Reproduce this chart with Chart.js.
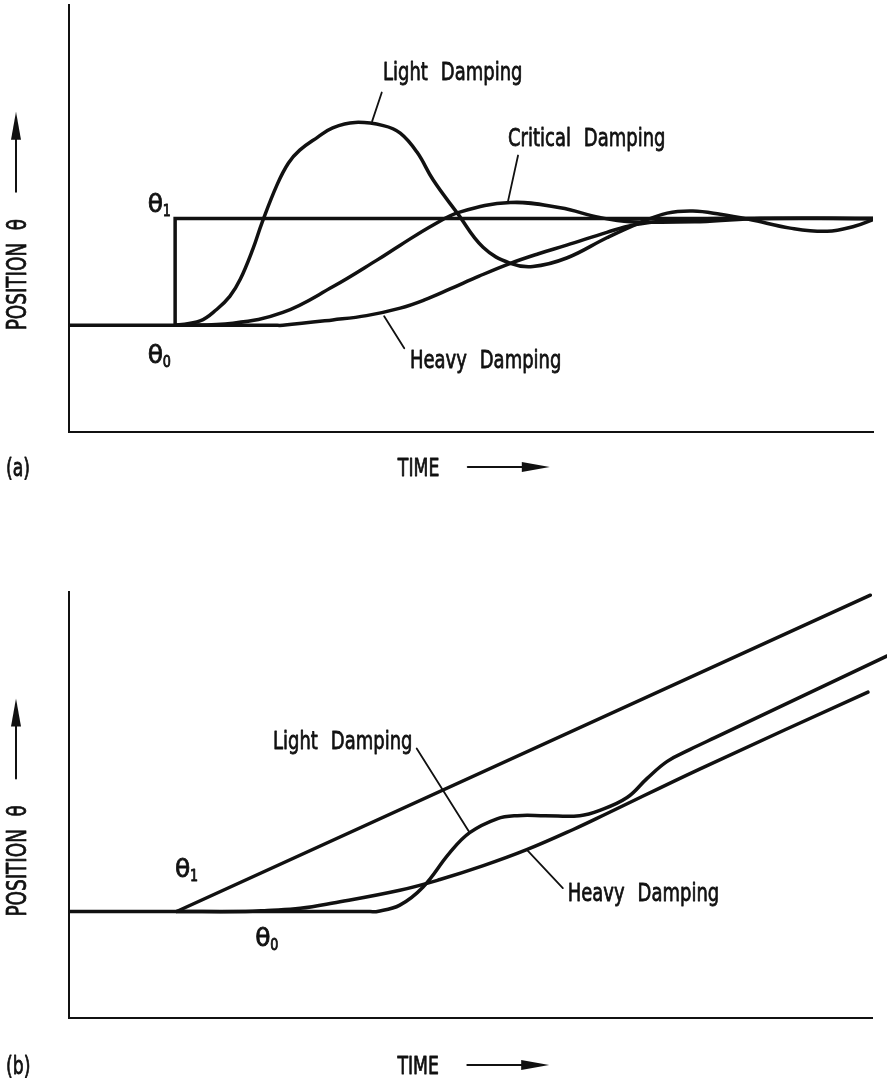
<!DOCTYPE html>
<html>
<head>
<meta charset="utf-8">
<title>Damping response</title>
<script src="https://cdn.jsdelivr.net/npm/chart.js@4/dist/chart.umd.min.js"></script>
<style>
  html, body { margin: 0; padding: 0; background: #fff; }
  canvas { display: block; }
</style>
</head>
<body>
<canvas id="stepChart" width="887" height="540"></canvas>
<canvas id="rampChart" width="887" height="547"></canvas>
<script>
// time runs 0..100 across each panel, position is in units where θ0 = 0 and θ1 = 1

// (a) step input
const stepTime = [0, 13.2, 13.2, 100];
const stepPos = [0, 0, 1, 1];

const lightATime = [13.2, 16.3, 18.4, 20.0, 21.3, 22.9, 24.0, 25.9, 27.3, 28.7, 30.9, 32.8, 35.6, 39.1, 41.2, 43.3, 45.3, 48.3, 51.5, 54.9, 57.7, 61.9, 66.9, 71.0, 74.4, 77.6, 81.0, 84.7, 89.7, 94.3, 97.8, 100];
const lightAPos = [0, 0.04, 0.15, 0.27, 0.43, 0.72, 0.96, 1.32, 1.52, 1.64, 1.76, 1.85, 1.90, 1.87, 1.80, 1.62, 1.36, 1.05, 0.73, 0.58, 0.55, 0.63, 0.82, 0.96, 1.05, 1.07, 1.04, 0.99, 0.91, 0.88, 0.93, 0.99];

const criticalATime = [13.2, 20.4, 26.6, 32.8, 38.3, 41.2, 45.3, 48.6, 54.9, 61.1, 66.0, 69.8, 78.5, 86.0, 100];
const criticalAPos = [0, 0.02, 0.12, 0.36, 0.61, 0.75, 0.94, 1.06, 1.15, 1.10, 1.01, 0.97, 0.97, 1.0, 1.0];

const heavyATime = [13.2, 25.5, 26.6, 32.8, 37.0, 41.2, 44.3, 47.4, 51.0, 54.9, 58.4, 61.9, 66.9, 70.2, 74.4, 81.0, 100];
const heavyAPos = [0, 0, 0, 0.05, 0.09, 0.16, 0.24, 0.34, 0.46, 0.58, 0.67, 0.75, 0.87, 0.94, 0.98, 1.0, 1.0];

// (b) ramp input
const rampTime = [0, 13.4, 99.8];
const rampPos = [0, 0, 2.97];

const lightBTime = [13.4, 37.5, 38.4, 41.2, 44.1, 47.4, 49.9, 53.3, 55.8, 59.3, 63.6, 66.1, 69.5, 72.0, 74.5, 77.3, 80.5, 101.9];
const lightBPos = [0, 0, 0, 0.06, 0.23, 0.55, 0.74, 0.87, 0.90, 0.90, 0.90, 0.95, 1.07, 1.25, 1.41, 1.52, 1.635, 2.40];

const heavyBTime = [13.4, 22.0, 24.7, 28.8, 32.9, 41.2, 46.2, 51.6, 57.0, 62.8, 67.0, 78.6, 99.5];
const heavyBPos = [0, 0, 0.01, 0.03, 0.08, 0.20, 0.30, 0.43, 0.58, 0.77, 0.92, 1.34, 2.06];

const INK = '#111';
const FONT = '"DejaVu Sans", "Liberation Sans", sans-serif';
const SQUEEZE = 0.72;

function pts(xs, ys) {
  return xs.map((x, i) => ({ x: x, y: ys[i] }));
}

function curve(data, extra) {
  return Object.assign({
    data: data,
    borderColor: INK,
    borderWidth: 3.5,
    pointRadius: 0,
    fill: false,
    tension: 0.4,
    borderCapStyle: 'round',
    borderJoinStyle: 'round'
  }, extra || {});
}

// squeezed lettering, slightly stroked to match the drawn weight
function drawText(ctx, str, px, py, size, squeeze) {
  ctx.save();
  ctx.translate(px, py);
  ctx.scale(squeeze || SQUEEZE, 1);
  ctx.font = size + 'px ' + FONT;
  ctx.textBaseline = 'alphabetic';
  ctx.textAlign = 'left';
  ctx.wordSpacing = '10px';
  ctx.lineWidth = 0.8;
  ctx.lineJoin = 'round';
  ctx.fillText(str, 0, 0);
  ctx.strokeText(str, 0, 0);
  ctx.restore();
}

function arrowHead(ctx, tipX, tipY, dirX, dirY) {
  const len = 28, half = 5;
  const bx = tipX - dirX * len, by = tipY - dirY * len;
  ctx.beginPath();
  ctx.moveTo(tipX, tipY);
  ctx.lineTo(bx - dirY * half, by + dirX * half);
  ctx.lineTo(bx + dirY * half, by - dirX * half);
  ctx.closePath();
  ctx.fill();
}

// labels, leader lines, theta marks and axis captions
const sketchPlugin = {
  id: 'sketch',
  afterDraw(chart, args, opts) {
    const { ctx, chartArea } = chart;
    const sx = chart.scales.x, sy = chart.scales.y;
    const X = v => sx.getPixelForValue(v);
    const Y = v => sy.getPixelForValue(v);
    ctx.save();
    ctx.fillStyle = INK;
    ctx.strokeStyle = INK;

    ctx.lineWidth = 1.8;
    ctx.lineCap = 'round';
    opts.leaders.forEach(l => {
      ctx.beginPath();
      ctx.moveTo(X(l[0]), Y(l[1]));
      ctx.lineTo(X(l[2]), Y(l[3]));
      ctx.stroke();
    });

    opts.labels.forEach(l => drawText(ctx, l.text, X(l.x), Y(l.y), 25));

    opts.thetas.forEach(t => {
      drawText(ctx, 'θ', X(t.x), Y(t.y), 25, 1);
      drawText(ctx, t.sub, X(t.x) + 15, Y(t.y) + 4, 15, 0.85);
    });

    // vertical axis caption, reading upward from the θ0 level
    ctx.save();
    ctx.translate(26, Y(0) + 5);
    ctx.rotate(-Math.PI / 2);
    drawText(ctx, 'POSITION θ', 0, 0, 27, 0.68);
    ctx.restore();

    ctx.lineWidth = 2;
    ctx.beginPath();
    ctx.moveTo(16, Y(1.25));
    ctx.lineTo(16, Y(2.0) + 20);
    ctx.stroke();
    arrowHead(ctx, 16, Y(2.0), 0, -1);

    // bottom captions
    const base = chartArea.bottom + opts.captionGap;
    drawText(ctx, opts.panel, 6, base, 24);
    drawText(ctx, 'TIME', X(40.9), base, 24);
    ctx.beginPath();
    ctx.moveTo(X(49.6), base - 9);
    ctx.lineTo(X(59.8) - 20, base - 9);
    ctx.stroke();
    arrowHead(ctx, X(59.8), base - 9, 1, 0);

    ctx.restore();
  }
};

function axisOpts(min, max) {
  return {
    type: 'linear',
    min: min,
    max: max,
    ticks: { display: false },
    grid: { display: false, drawTicks: false },
    border: { display: true, color: INK, width: 2 }
  };
}

function baseOptions(padding, sketch) {
  return {
    responsive: false,
    animation: false,
    devicePixelRatio: 1,
    layout: { padding: padding },
    scales: { x: axisOpts(0, 100), y: axisOpts(-1, 3) },
    plugins: {
      legend: { display: false },
      tooltip: { enabled: false },
      sketch: sketch
    }
  };
}

new Chart(document.getElementById('stepChart'), {
  type: 'line',
  data: {
    datasets: [
      curve(pts(stepTime, stepPos), { tension: 0, borderJoinStyle: 'miter' }),
      curve(pts(lightATime, lightAPos)),
      curve(pts(criticalATime, criticalAPos)),
      curve(pts(heavyATime, heavyAPos))
    ]
  },
  options: baseOptions({ left: 69, right: 14, top: 5, bottom: 108 }, {
    panel: '(a)',
    captionGap: 44,
    labels: [
      { text: 'Light Damping', x: 39.05, y: 2.30 },
      { text: 'Critical Damping', x: 54.6, y: 1.68 },
      { text: 'Heavy Damping', x: 42.4, y: -0.40 }
    ],
    leaders: [
      [37.7, 1.91, 38.9, 2.18],
      [54.6, 1.16, 55.85, 1.59],
      [39.2, 0.085, 41.7, -0.215]
    ],
    thetas: [
      { sub: '1', x: 9.8, y: 1.06 },
      { sub: '0', x: 9.8, y: -0.35 }
    ]
  }),
  plugins: [sketchPlugin]
});

new Chart(document.getElementById('rampChart'), {
  type: 'line',
  data: {
    datasets: [
      curve(pts(rampTime, rampPos), { tension: 0 }),
      curve(pts(lightBTime, lightBPos), { clip: false }),
      curve(pts(heavyBTime, heavyBPos))
    ]
  },
  options: baseOptions({ left: 69, right: 15, top: 52, bottom: 69 }, {
    panel: '(b)',
    captionGap: 56,
    labels: [
      { text: 'Light Damping', x: 25.4, y: 1.53 },
      { text: 'Heavy Damping', x: 62.1, y: 0.10 }
    ],
    leaders: [
      [43.3, 1.53, 49.9, 0.74],
      [57.0, 0.58, 61.5, 0.22]
    ],
    thetas: [
      { sub: '1', x: 13.2, y: 0.32 },
      { sub: '0', x: 23.2, y: -0.32 }
    ]
  }),
  plugins: [sketchPlugin]
});
</script>
</body>
</html>
